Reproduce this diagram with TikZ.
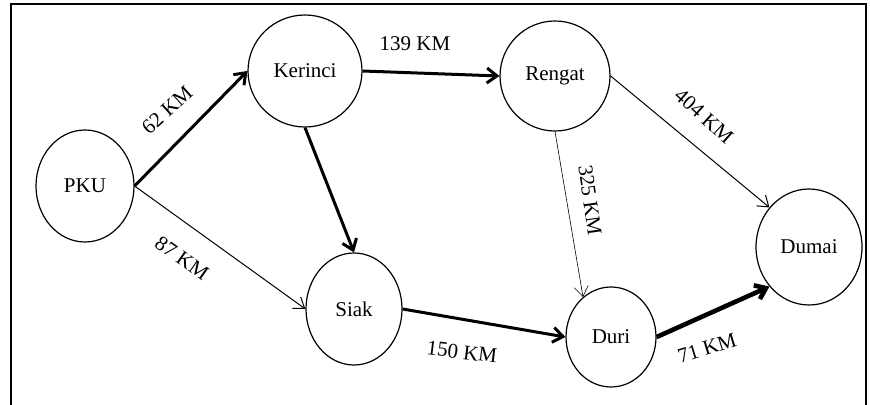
\documentclass[tikz,border=0pt]{standalone}
\usepackage{fontspec}
\setmainfont{Liberation Serif}
\usetikzlibrary{shapes.geometric,arrows.meta}

\begin{document}
\begin{tikzpicture}[x=0.5pt,y=-0.5pt,
    city/.style={ellipse,draw=black,line width=0.6pt,inner sep=0pt,font=\fontsize{10.5}{12}\selectfont},
    dist/.style={font=\fontsize{10.5}{12}\selectfont,inner sep=0pt},
    heavy/.style={-{Straight Barb[length=5pt,width=7.5pt]},line width=1.5pt},
    light/.style={-{Straight Barb[length=5pt,width=7pt]},line width=0.5pt}]
    \useasboundingbox (0,0) rectangle (870,405);
    \draw[line width=0.8pt] (11,412) -- (11,4) -- (866,4) -- (866,412);

    \node[city,minimum width=49pt,minimum height=56pt] (pku) at (85,186) {PKU};
    \node[city,minimum width=57pt,minimum height=56pt] (ker) at (305,71) {Kerinci};
    \node[city,minimum width=55pt,minimum height=55pt] (ren) at (555,76) {Rengat};
    \node[city,minimum width=48pt,minimum height=56pt] (sia) at (354,309) {Siak};
    \node[city,minimum width=45pt,minimum height=50pt] (dur) at (611,337) {Duri};
    \node[city,minimum width=53pt,minimum height=58pt] (dum) at (809,247) {Dumai};

    \draw[heavy] (pku.east) -- (ker.west);
    \draw[light] (pku.east) -- (sia.west);
    \draw[heavy] (ker.south) -- (sia.north);
    \draw[heavy] (ker.east) -- (ren.west);
    \draw[light] (ren.east) -- (dum.135);
    \draw[light,line width=0.3pt] (ren.south) -- (dur.125);
    \draw[heavy] (sia.east) -- (dur.west);
    \draw[heavy,line width=2.3pt] (dur.east) -- (dum.225);

    \node[dist,rotate=42] (l62) at (167,110) {62 KM};
    \node[dist] (l139) at (415,44) {139 KM};
    \node[dist,rotate=-42] (l404) at (704,116) {404 KM};
    \node[dist,rotate=-82] (l325) at (590,200) {325 KM};
    \node[dist,rotate=-35] (l87) at (182,258) {87 KM};
    \node[dist,rotate=-7] (l150) at (462,352) {150 KM};
    \node[dist,rotate=17] (l71) at (707,348) {71 KM};
\end{tikzpicture}
\end{document}
